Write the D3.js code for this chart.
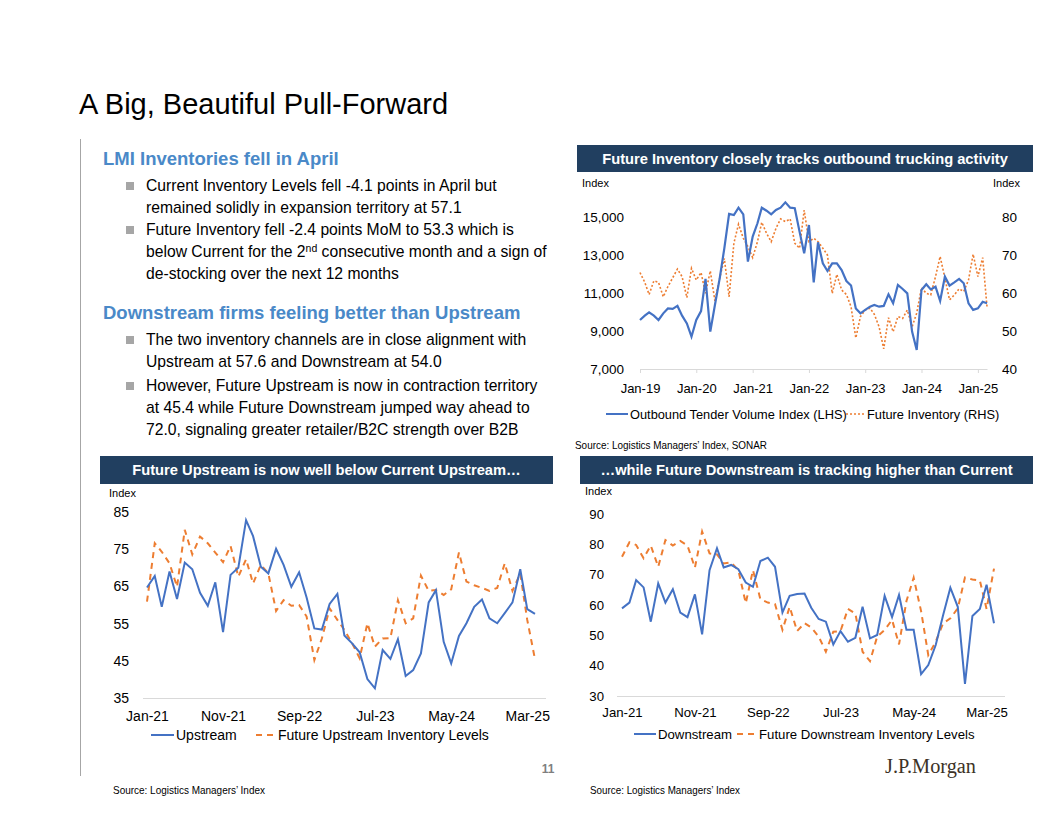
<!DOCTYPE html>
<html>
<head>
<meta charset="utf-8">
<script src="https://cdn.jsdelivr.net/npm/d3@7.9.0/dist/d3.min.js"></script>
<style>
  body { margin: 0; background: #fff; }
  svg { display: block; font-family: "Liberation Sans", Arial, sans-serif; }
  .axis text { fill: #000; }
  .axis .domain { stroke: #d9d9d9; }
  .axis .tick line { stroke: #d9d9d9; }
</style>
</head>
<body>
<svg id="slide" width="1056" height="816"></svg>
<script>
// ---- data ----
// Outbound Tender Volume Index (LHS), monthly Jan-19 .. Mar-25
const tenderVolume = [
  9580, 9810, 9980, 9810, 9580, 9930, 10190, 10160, 10320, 9810, 9400, 8700,
  9580, 10050, 11740, 8970, 10370, 11770, 13350, 15160, 15100, 15490, 15140, 12650,
  13970, 14670, 15490, 15330, 15140, 15370, 15490, 15770, 15490, 15460, 14230, 13090,
  14580, 11560, 13670, 12560, 12160, 12560, 12560, 12210, 11630, 11390, 10190, 9930,
  10110, 10280, 10370, 10280, 10320, 10930, 10460, 11420, 11210, 10980, 8970, 8000,
  11160, 11460, 11190, 11330, 10580, 11860, 11390, 11560, 11740, 11510, 10460, 10110,
  10190, 10540, 10460
];
// Future Inventory (RHS), monthly Jan-19 .. Mar-25
const futureInventory = [
  65.4, 62.8, 59.6, 63.2, 62.8, 59.0, 61.7, 64.0, 66.3, 64.3, 58.8, 66.5,
  63.4, 65.4, 59.9, 65.8, 57.9, 63.9, 69.1, 59.0, 73.1, 78.1, 74.4, 72.2,
  69.3, 73.5, 78.6, 75.7, 73.5, 77.0, 79.5, 78.8, 79.5, 73.1, 71.8, 81.8,
  73.5, 74.4, 73.5, 71.8, 70.0, 59.9, 64.9, 60.8, 59.6, 56.4, 48.2, 53.8,
  55.5, 56.0, 54.4, 51.1, 45.3, 53.5, 49.8, 53.8, 53.3, 55.5, 51.1, 54.7,
  61.4, 59.9, 59.5, 64.3, 69.6, 63.9, 58.2, 59.5, 61.1, 60.4, 63.4, 70.2,
  64.3, 69.3, 56.4
];
// LMI monthly Jan-21 .. Apr-25
const upstream = [
  64.7, 67.8, 59.5, 69.0, 61.6, 71.4, 69.6, 63.3, 59.8, 66.1, 52.7, 68.1,
  70.0, 82.8, 78.5, 70.3, 68.5, 75.1, 70.8, 64.9, 68.8, 62.0, 53.7, 53.4,
  60.3, 63.0, 51.8, 49.7, 47.3, 40.1, 37.6, 47.9, 45.5, 50.8, 40.9, 42.5,
  47.0, 60.7, 64.0, 50.1, 44.3, 51.7, 55.1, 59.5, 61.5, 56.4, 55.1, 57.8,
  60.7, 69.6, 58.9, 57.6
];
const futureUpstream = [
  60.9, 76.6, 74.3, 71.2, 64.9, 80.2, 73.6, 78.4, 76.6, 74.1, 71.5, 75.9,
  67.6, 72.3, 65.8, 70.8, 68.5, 58.4, 61.3, 59.8, 60.0, 56.9, 45.2, 51.0,
  59.1, 56.0, 53.3, 49.7, 45.7, 55.1, 48.8, 51.0, 51.1, 61.3, 55.1, 56.4,
  67.9, 63.8, 64.0, 62.7, 64.2, 74.1, 66.3, 65.3, 64.6, 63.8, 64.6, 71.2,
  63.8, 68.5, 56.0, 45.4
];
const downstream = [
  58.9, 60.8, 68.2, 65.8, 54.5, 67.1, 60.8, 65.2, 57.5, 56.0, 63.5, 50.3,
  71.5, 78.7, 72.4, 73.2, 71.8, 67.4, 66.0, 74.5, 75.6, 72.6, 57.5, 63.0,
  63.6, 63.8, 59.1, 55.4, 54.5, 47.0, 51.4, 47.9, 49.2, 59.4, 49.0, 50.1,
  63.0, 56.0, 63.3, 51.8, 51.8, 37.2, 40.2, 46.8, 56.7, 65.7, 59.4, 34.0,
  56.4, 58.7, 66.7, 54.0
];
const futureDownstream = [
  75.9, 80.7, 79.8, 75.4, 79.6, 72.6, 81.4, 79.6, 81.1, 79.6, 72.3, 84.2,
  77.0, 76.7, 73.7, 74.0, 71.5, 60.6, 71.5, 61.9, 60.8, 60.3, 51.8, 59.4,
  51.4, 54.0, 52.6, 49.6, 44.6, 51.2, 51.4, 58.7, 57.2, 44.6, 41.5, 49.6,
  51.8, 55.1, 47.0, 61.3, 69.0, 58.0, 43.5, 47.9, 54.0, 55.6, 58.9, 69.1,
  68.4, 68.1, 58.7, 72.0
];

const topLeftTicks = [7000, 9000, 11000, 13000, 15000];
const topRightTicks = [40, 50, 60, 70, 80];
const upTicks = [35, 45, 55, 65, 75, 85];
const downTicks = [30, 40, 50, 60, 70, 80, 90];
const bottomTickLabels = ['Jan-21', 'Nov-21', 'Sep-22', 'Jul-23', 'May-24', 'Mar-25'];

const blue = '#4472c4';
const orange = '#ed7d31';
const navy = '#213f60';
const headBlue = '#4a89c8';

const svg = d3.select('#slide');
const parseTick = d3.timeParse('%b-%y');
const monthsFrom = (start, arr) => arr.map((_, i) => d3.timeMonth.offset(start, i));

// ---- title & left text panel ----
svg.append('text').attr('x', 79).attr('y', 114)
  .attr('font-size', 29).attr('fill', '#000')
  .text('A Big, Beautiful Pull-Forward');

svg.append('line').attr('x1', 80.5).attr('x2', 80.5).attr('y1', 139).attr('y2', 776)
  .attr('stroke', '#a6a6a6').attr('stroke-width', 1);

function heading(y, txt) {
  svg.append('text').attr('x', 103).attr('y', y)
    .attr('font-size', 18.5).attr('font-weight', 'bold').attr('fill', headBlue)
    .text(txt);
}
function bullet(y, lines) {
  svg.append('rect').attr('x', 126).attr('y', y - 9).attr('width', 8).attr('height', 8)
    .attr('fill', '#a6a6a6');
  lines.forEach((ln, i) => {
    const t = svg.append('text').attr('x', 146).attr('y', y + i * 22)
      .attr('font-size', 15.7).attr('fill', '#000');
    let lift = 0;
    ln.forEach(part => {
      if (typeof part === 'object') {
        // superscript piece, e.g. the "nd" of 2nd
        t.append('tspan').attr('font-size', 10.5).attr('dy', -5).text(part.sup);
        lift = 5;
      } else {
        t.append('tspan').attr('dy', lift || null).text(part);
        lift = 0;
      }
    });
  });
}

heading(165, 'LMI Inventories fell in April');
bullet(191, [['Current Inventory Levels fell -4.1 points in April but'],
             ['remained solidly in expansion territory at 57.1']]);
bullet(235, [['Future Inventory fell -2.4 points MoM to 53.3 which is'],
             ['below Current for the 2', {sup: 'nd'}, ' consecutive month and a sign of'],
             ['de-stocking over the next 12 months']]);
heading(319, 'Downstream firms feeling better than Upstream');
bullet(345, [['The two inventory channels are in close alignment with'],
             ['Upstream at 57.6 and Downstream at 54.0']]);
bullet(391, [['However, Future Upstream is now in contraction territory'],
             ['at 45.4 while Future Downstream jumped way ahead to'],
             ['72.0, signaling greater retailer/B2C strength over B2B']]);

// ---- helpers ----
function band(x, y, w, h, txt) {
  svg.append('rect').attr('x', x).attr('y', y).attr('width', w).attr('height', h).attr('fill', navy);
  svg.append('text').attr('x', x + w / 2).attr('y', y + h / 2 + 5)
    .attr('text-anchor', 'middle').attr('font-size', 14.7).attr('font-weight', 'bold')
    .attr('fill', '#fff').text(txt);
}
function small(x, y, txt, opts = {}) {
  const t = svg.append('text').attr('x', x).attr('y', y)
    .attr('font-size', opts.size || 11).attr('fill', '#000').text(txt);
  if (opts.len) t.attr('textLength', opts.len).attr('lengthAdjust', 'spacingAndGlyphs');
  return t;
}
function legendItem(x1, x2, y, color, dash, width, label, size) {
  svg.append('line').attr('x1', x1).attr('x2', x2).attr('y1', y).attr('y2', y)
    .attr('stroke', color).attr('stroke-width', width).attr('stroke-dasharray', dash);
  svg.append('text').attr('x', x2 + 2).attr('y', y + 5)
    .attr('font-size', size).attr('fill', '#000').text(label);
}
function styleAxis(g, size) {
  g.attr('class', 'axis').attr('font-family', null).attr('font-size', size);
}

// ---- top-right chart ----
band(577, 145, 456, 27, 'Future Inventory closely tracks outbound trucking activity');
small(582, 187, 'Index');
small(993, 187, 'Index');

const topMonths = monthsFrom(new Date(2019, 0, 1), tenderVolume);
const xTop = d3.scaleTime().domain([new Date(2019, 0, 1), new Date(2025, 2, 1)]).range([640, 987]);
const yL = d3.scaleLinear().domain([7000, 15000]).range([369, 217]);
const yR = d3.scaleLinear().domain([40, 80]).range([369, 217]);

svg.append('g').attr('transform', 'translate(627,0)')
  .call(d3.axisLeft(yL).tickValues(topLeftTicks).tickSize(0).tickPadding(3).tickFormat(d3.format(',')))
  .call(g => { styleAxis(g, 13.5); g.select('.domain').remove(); });
svg.append('g').attr('transform', 'translate(999,0)')
  .call(d3.axisRight(yR).tickValues(topRightTicks).tickSize(0).tickPadding(3))
  .call(g => { styleAxis(g, 13.5); g.select('.domain').remove(); });
svg.append('g').attr('transform', 'translate(0,369)')
  .call(d3.axisBottom(xTop).ticks(d3.timeYear.every(1)).tickSizeInner(4).tickSizeOuter(0)
    .tickPadding(11).tickFormat(d3.timeFormat('%b-%y')))
  .call(g => styleAxis(g, 13));

svg.append('path').datum(futureInventory)
  .attr('fill', 'none').attr('stroke', orange).attr('stroke-width', 1.6).attr('stroke-dasharray', '2,2')
  .attr('d', d3.line().x((d, i) => xTop(topMonths[i])).y(d => yR(d)));
svg.append('path').datum(tenderVolume)
  .attr('fill', 'none').attr('stroke', blue).attr('stroke-width', 2.2)
  .attr('d', d3.line().x((d, i) => xTop(topMonths[i])).y(d => yL(d)));

legendItem(606, 628, 414, blue, null, 2, 'Outbound Tender Volume Index (LHS)', 12.8);
legendItem(846, 865, 414, orange, '2,2', 1.6, 'Future Inventory (RHS)', 12.8);
small(575, 449, 'Source: Logistics Managers\u2019 Index, SONAR', {size: 10.5, len: 192});

// ---- bottom charts ----
function lmiChart(cfg) {
  band(cfg.bx, 456, cfg.bw, 28, cfg.title);
  small(cfg.ix, cfg.iy, 'Index');
  const months = monthsFrom(new Date(2021, 0, 1), cfg.a);
  const x = d3.scaleTime().domain([new Date(2021, 0, 1), new Date(2025, 3, 1)]).range(cfg.xr);
  const y = d3.scaleLinear().domain(cfg.yd).range(cfg.yr);
  svg.append('line').attr('x1', cfg.base[0]).attr('x2', cfg.base[1])
    .attr('y1', cfg.yr[0] + 0.5).attr('y2', cfg.yr[0] + 0.5).attr('stroke', '#d9d9d9');
  svg.append('g').attr('transform', `translate(${cfg.ax},0)`)
    .call(d3.axisLeft(y).tickValues(cfg.ticks).tickSize(0).tickPadding(3))
    .call(g => { styleAxis(g, cfg.fs); g.select('.domain').remove(); });
  svg.append('g').attr('transform', `translate(0,${cfg.yr[0]})`)
    .call(d3.axisBottom(x).tickValues(bottomTickLabels.map(parseTick)).tickSize(0)
      .tickPadding(cfg.pad).tickFormat(d3.timeFormat('%b-%y')))
    .call(g => { styleAxis(g, cfg.fs); g.select('.domain').remove(); });
  const line = d3.line().x((d, i) => x(months[i])).y(d => y(d));
  svg.append('path').datum(cfg.b).attr('fill', 'none').attr('stroke', orange)
    .attr('stroke-width', 2).attr('stroke-dasharray', '6,5').attr('d', line);
  svg.append('path').datum(cfg.a).attr('fill', 'none').attr('stroke', blue)
    .attr('stroke-width', 2).attr('d', line);
  legendItem(cfg.lg[0], cfg.lg[1], cfg.ly, blue, null, 2, cfg.la, cfg.fs);
  legendItem(cfg.lg[2], cfg.lg[3], cfg.ly, orange, '6,5', 2, cfg.lb, cfg.fs);
}

lmiChart({
  title: 'Future Upstream is now well below Current Upstream\u2026',
  bx: 100, bw: 453, ix: 109, iy: 497, fs: 14,
  a: upstream, b: futureUpstream,
  xr: [147, 535], yd: [35, 85], yr: [698, 512], base: [143, 546],
  ax: 132, ticks: upTicks, pad: 13,
  lg: [151, 174, 256, 276], ly: 735, la: 'Upstream', lb: 'Future Upstream Inventory Levels'
});
lmiChart({
  title: '\u2026while Future Downstream is tracking higher than Current',
  bx: 580, bw: 453, ix: 585, iy: 495, fs: 13.2,
  a: downstream, b: futureDownstream,
  xr: [622, 994], yd: [30, 90], yr: [696, 514], base: [617, 1005],
  ax: 607, ticks: downTicks, pad: 12,
  lg: [634, 656, 737, 757], ly: 734, la: 'Downstream', lb: 'Future Downstream Inventory Levels'
});

// ---- footer ----
svg.append('text').attr('x', 548).attr('y', 773).attr('text-anchor', 'middle')
  .attr('font-family', '"Liberation Sans", Arial, sans-serif')
  .attr('font-size', 12).attr('font-weight', 'bold').attr('fill', '#7f7f7f').text('11');
svg.append('text').attr('x', 885).attr('y', 773)
  .attr('font-family', '"Liberation Serif", "DejaVu Serif", serif')
  .attr('font-size', 20).attr('fill', '#3d3226').attr('textLength', 91)
  .attr('lengthAdjust', 'spacingAndGlyphs').text('J.P.Morgan');
small(113, 794, 'Source: Logistics Managers\u2019 Index', {size: 10.5, len: 152});
small(590, 794, 'Source: Logistics Managers\u2019 Index', {size: 10.5, len: 150});
</script>
</body>
</html>
